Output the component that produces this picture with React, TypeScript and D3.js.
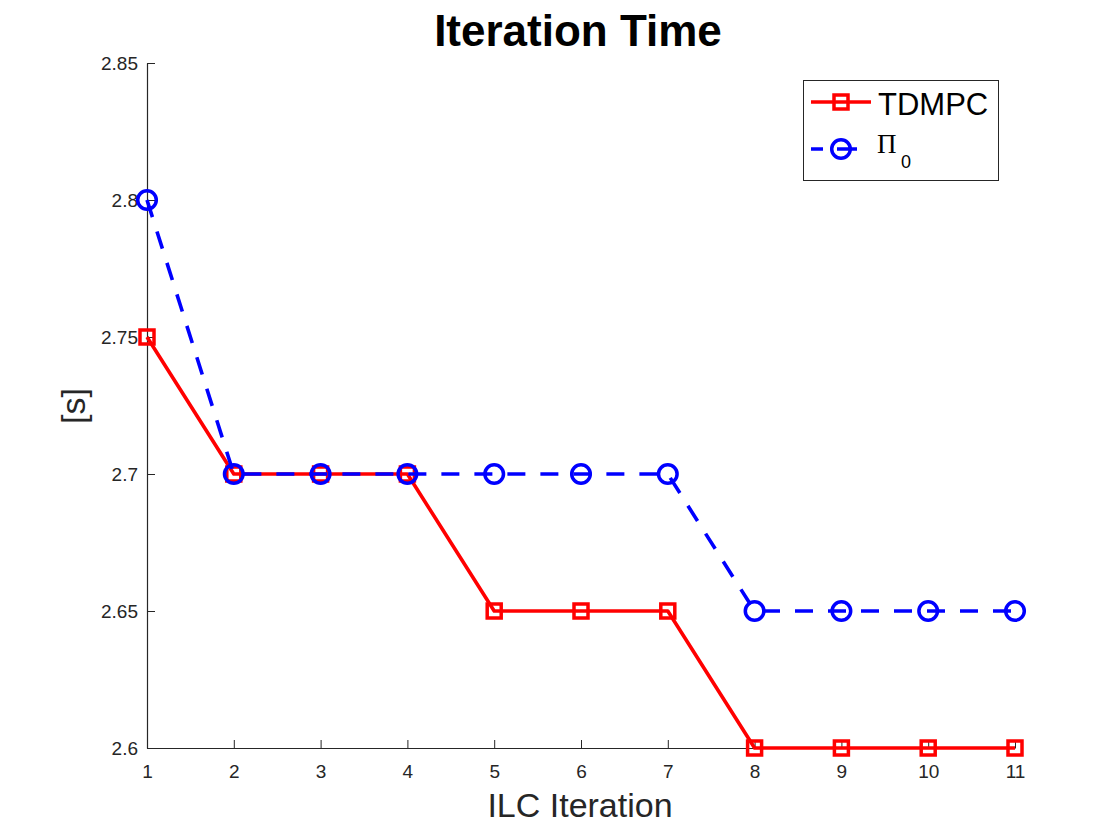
import React, { useEffect, useRef } from "react";
import * as d3 from "d3";

const iterations = [1, 2, 3, 4, 5, 6, 7, 8, 9, 10, 11];
const tdmpc = [2.75, 2.7, 2.7, 2.7, 2.65, 2.65, 2.65, 2.6, 2.6, 2.6, 2.6];
const pi0 = [2.8, 2.7, 2.7, 2.7, 2.7, 2.7, 2.7, 2.65, 2.65, 2.65, 2.65];
const yTicks = [2.6, 2.65, 2.7, 2.75, 2.8, 2.85];

const FONT = "'Liberation Sans', Arial, Helvetica, sans-serif";

const App = () => {
  const svgRef = useRef<SVGSVGElement | null>(null);

  useEffect(() => {
    const width = 1120;
    const height = 840;
    const svg = d3.select(svgRef.current);
    svg.selectAll("*").remove();
    svg.attr("width", width).attr("height", height);

    const x = d3.scaleLinear().domain([1, 11]).range([147, 1015]);
    const y = d3.scaleLinear().domain([2.6, 2.85]).range([748, 63]);
    const axisColor = "#262626";
    const lw = 3.6;
    const dash = "18 15";

    // axes (MATLAB style, inward ticks, no box)
    const xAxis = svg
      .append("g")
      .attr("transform", `translate(0,${y(2.6)})`)
      .call(d3.axisBottom(x).tickValues(iterations).tickSizeInner(-8).tickSizeOuter(0).tickPadding(17).tickFormat(d3.format("d")));
    const yAxis = svg
      .append("g")
      .attr("transform", `translate(${x(1)},0)`)
      .call(d3.axisLeft(y).tickValues(yTicks).tickSizeInner(-8).tickSizeOuter(0).tickPadding(9).tickFormat((d) => String(+d)));
    [xAxis, yAxis].forEach((g) => {
      g.select(".domain").attr("stroke", axisColor).attr("stroke-width", 1.2);
      g.selectAll(".tick line").attr("stroke", axisColor).attr("stroke-width", 1);
      g.selectAll(".tick text")
        .attr("fill", axisColor)
        .attr("font-family", FONT)
        .attr("font-size", "19px");
    });

    const line = d3
      .line<number>()
      .x((_, i) => x(iterations[i]))
      .y((d) => y(d));

    // TDMPC
    svg
      .append("path")
      .attr("d", line(tdmpc))
      .attr("fill", "none")
      .attr("stroke", "#ff0000")
      .attr("stroke-width", lw)
      .attr("stroke-linejoin", "round");
    svg
      .append("g")
      .selectAll("rect")
      .data(tdmpc)
      .join("rect")
      .attr("x", (_, i) => x(iterations[i]) - 7)
      .attr("y", (d) => y(d) - 7)
      .attr("width", 14)
      .attr("height", 14)
      .attr("fill", "none")
      .attr("stroke", "#ff0000")
      .attr("stroke-width", 3.5);

    // Pi_0
    svg
      .append("path")
      .attr("d", line(pi0))
      .attr("fill", "none")
      .attr("stroke", "#0000ff")
      .attr("stroke-width", lw)
      .attr("stroke-dasharray", dash);
    svg
      .append("g")
      .selectAll("circle")
      .data(pi0)
      .join("circle")
      .attr("cx", (_, i) => x(iterations[i]))
      .attr("cy", (d) => y(d))
      .attr("r", 9.3)
      .attr("fill", "none")
      .attr("stroke", "#0000ff")
      .attr("stroke-width", 3.5);

    // title and labels
    svg
      .append("text")
      .attr("x", 578)
      .attr("y", 46)
      .attr("text-anchor", "middle")
      .attr("font-family", FONT)
      .attr("font-weight", "bold")
      .attr("font-size", "44px")
      .attr("fill", "#000")
      .text("Iteration Time");
    svg
      .append("text")
      .attr("x", 580)
      .attr("y", 817)
      .attr("text-anchor", "middle")
      .attr("font-family", FONT)
      .attr("font-size", "34px")
      .attr("fill", axisColor)
      .text("ILC Iteration");
    svg
      .append("text")
      .attr("transform", "translate(85,406) rotate(-90)")
      .attr("text-anchor", "middle")
      .attr("font-family", FONT)
      .attr("font-size", "34px")
      .attr("fill", axisColor)
      .text("[s]");

    // legend
    const legend = svg.append("g");
    legend
      .append("rect")
      .attr("x", 803.5)
      .attr("y", 80.5)
      .attr("width", 195)
      .attr("height", 100)
      .attr("fill", "#fff")
      .attr("stroke", axisColor)
      .attr("stroke-width", 1);
    legend
      .append("line")
      .attr("x1", 811)
      .attr("x2", 871)
      .attr("y1", 102)
      .attr("y2", 102)
      .attr("stroke", "#ff0000")
      .attr("stroke-width", lw);
    legend
      .append("rect")
      .attr("x", 841 - 7)
      .attr("y", 102 - 7)
      .attr("width", 14)
      .attr("height", 14)
      .attr("fill", "none")
      .attr("stroke", "#ff0000")
      .attr("stroke-width", 3.5);
    legend
      .append("text")
      .attr("x", 878)
      .attr("y", 115)
      .attr("font-family", FONT)
      .attr("font-size", "31px")
      .attr("fill", "#000")
      .text("TDMPC");
    legend
      .append("line")
      .attr("x1", 811)
      .attr("x2", 871)
      .attr("y1", 149)
      .attr("y2", 149)
      .attr("stroke", "#0000ff")
      .attr("stroke-width", lw)
      .attr("stroke-dasharray", "12 14 20 14");
    legend
      .append("circle")
      .attr("cx", 841)
      .attr("cy", 149)
      .attr("r", 9.3)
      .attr("fill", "none")
      .attr("stroke", "#0000ff")
      .attr("stroke-width", 3.5);
    const piText = legend
      .append("text")
      .attr("x", 877)
      .attr("y", 153)
      .attr("fill", "#000");
    piText
      .append("tspan")
      .attr("font-family", "'Liberation Serif', 'Times New Roman', serif")
      .attr("font-size", "27px")
      .text("Π");
    piText
      .append("tspan")
      .attr("x", 901)
      .attr("y", 168)
      .attr("font-family", FONT)
      .attr("font-size", "18px")
      .text("0");
  }, []);

  return <svg ref={svgRef} style={{ position: "absolute", left: 0, top: 0 }} />;
};

export default App;
